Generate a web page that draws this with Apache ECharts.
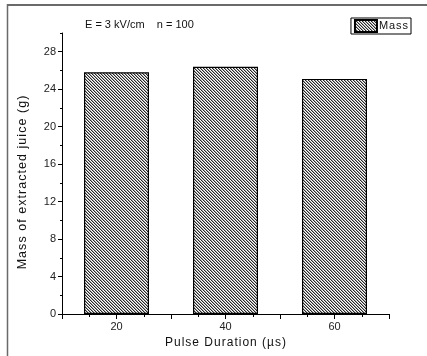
<!DOCTYPE html>
<html>
<head>
<meta charset="utf-8">
<script src="https://cdn.jsdelivr.net/npm/echarts@6/dist/echarts.min.js"></script>
<style>
  html, body { margin: 0; padding: 0; background: #fff; }
  #chart { width: 427px; height: 356px; }
</style>
</head>
<body>
<div id="chart"></div>
<script>
// Pulse duration (µs) and extracted juice mass (g)
const pulseDurations = [20, 40, 60];
const massValues = [25.8, 26.4, 25.1];
const seriesName = 'Mass';
const yMajorTicks = [0, 4, 8, 12, 16, 20, 24, 28];
const yMinorTicks = [2, 6, 10, 14, 18, 22, 26, 30];
const xLabelTicks = [20, 40, 60];

// Widen text slightly by putting hair spaces between the letters
const spaced = s => Array.from(s).join('\u200A');

// Diagonal hatch tile ("\" direction) for the bars
function makeHatch() {
  const c = document.createElement('canvas');
  const n = 6;
  c.width = n; c.height = n;
  const ctx = c.getContext('2d');
  const img = ctx.createImageData(n, n);
  for (let y = 0; y < n; y++) {
    for (let x = 0; x < n; x++) {
      const k = ((x - y) % 3 + 3) % 3;
      let v = 255;
      if (k === 0) v = 40;
      else if (k === 1) v = 165;
      const i = (y * n + x) * 4;
      img.data[i] = v; img.data[i + 1] = v; img.data[i + 2] = v; img.data[i + 3] = 255;
    }
  }
  ctx.putImageData(img, 0, 0);
  return c;
}
const hatch = makeHatch();

const font = '"Liberation Sans", Arial, sans-serif';
const chart = echarts.init(document.getElementById('chart'), null, { renderer: 'canvas' });

chart.setOption({
  animation: false,
  backgroundColor: '#fff',
  title: {
    text: 'E = 3 kV/cm    n = 100',
    left: 80,
    top: 14,
    textStyle: { fontFamily: font, fontSize: 11, fontWeight: 'normal', color: '#111' }
  },
  legend: {
    data: [{ name: seriesName, icon: 'rect' }],
    formatter: name => spaced(name),
    right: 16,
    top: 18,
    itemWidth: 22,
    itemHeight: 12,
    itemGap: 2,
    padding: [1, 3, 1, 3],
    borderColor: '#000',
    borderWidth: 1,
    textStyle: { fontFamily: font, fontSize: 11, color: '#111', padding: [0, 0, 0, -3] }
  },
  grid: { left: 62, right: 38, top: 33, bottom: 42 },
  xAxis: {
    type: 'value',
    min: 10,
    max: 70,
    interval: 10,
    name: spaced('Pulse Duration (\u00b5s)'),
    nameLocation: 'middle',
    nameGap: 20,
    nameTextStyle: { fontFamily: font, fontSize: 12, color: '#111' },
    axisLine: { lineStyle: { color: '#000', width: 1 } },
    axisTick: { show: true, length: 5, lineStyle: { color: '#000' } },
    minorTick: { show: true, splitNumber: 2, length: 3, lineStyle: { color: '#000' } },
    axisLabel: {
      fontFamily: font, fontSize: 11, color: '#222', margin: 7,
      formatter: v => (xLabelTicks.indexOf(v) >= 0 ? String(v) : '')
    },
    splitLine: { show: false }
  },
  yAxis: [
    {
      type: 'value',
      min: 0,
      max: 30,
      interval: 4,
      name: spaced('Mass of extracted juice (g)'),
      nameLocation: 'middle',
      nameGap: 33,
      nameTextStyle: { fontFamily: font, fontSize: 12.5, color: '#111', padding: [0, 18, 0, 0] },
      axisLine: { show: true, lineStyle: { color: '#000', width: 1 } },
      axisTick: { show: true, length: 4, customValues: yMajorTicks, lineStyle: { color: '#000' } },
      axisLabel: { fontFamily: font, fontSize: 11, color: '#222', margin: 6, customValues: yMajorTicks },
      splitLine: { show: false }
    },
    {
      type: 'value',
      min: 0,
      max: 30,
      interval: 4,
      position: 'left',
      axisLine: { show: false },
      axisTick: { show: true, length: 2, customValues: yMinorTicks, lineStyle: { color: '#000' } },
      axisLabel: { show: false },
      splitLine: { show: false }
    }
  ],
  series: [{
    name: seriesName,
    type: 'bar',
    yAxisIndex: 0,
    barWidth: 65,
    data: pulseDurations.map((d, i) => [d, massValues[i]]),
    itemStyle: {
      color: { image: hatch, repeat: 'repeat' },
      borderColor: '#000',
      borderWidth: 1.2
    }
  }],
  graphic: [
    { type: 'line', shape: { x1: 7, y1: 5, x2: 427, y2: 5 }, style: { stroke: '#6a6a6a', lineWidth: 2 } },
    { type: 'line', shape: { x1: 7.5, y1: 4, x2: 7.5, y2: 356 }, style: { stroke: '#6a6a6a', lineWidth: 1.5 } }
  ]
});
</script>
</body>
</html>
